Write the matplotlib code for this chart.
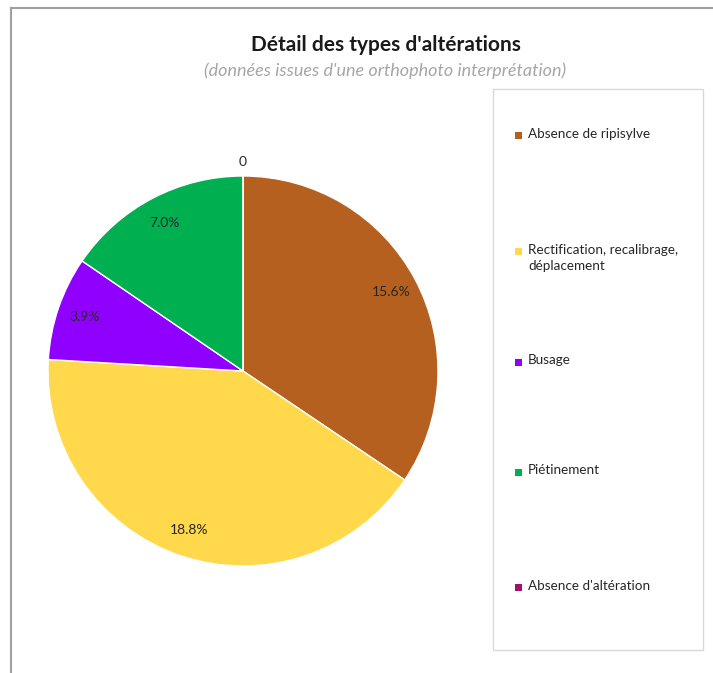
import matplotlib.pyplot as plt
from matplotlib.patches import Rectangle
import numpy as np

# data
categories = ["Absence de ripisylve",
              "Rectification, recalibrage,\ndéplacement",
              "Busage",
              "Piétinement",
              "Absence d'altération"]
values = [15.6, 18.8, 3.9, 7.0, 0.0]
value_labels = ["15.6%", "18.8%", "3.9%", "7.0%", "0"]
colors = ["#B5601F", "#FFD84B", "#8F00FF", "#00B050", "#A5106E"]

plt.rcParams['font.family'] = ['Lato', 'DejaVu Sans']

W, H = 713, 673
fig = plt.figure(figsize=(W / 100, H / 100), dpi=100)

# pie axes: center (243, 371) px, radius 195 px
cx, cy, r = 243, 371, 195
ax = fig.add_axes([(cx - r) / W, (H - cy - r) / H, 2 * r / W, 2 * r / H])
wedges, _ = ax.pie(values, colors=colors, startangle=90, counterclock=False,
                   wedgeprops=dict(edgecolor="white", linewidth=1.0))
ax.set_xlim(-1, 1)
ax.set_ylim(-1, 1)
ax.set_aspect("equal")
ax.axis("off")

# value labels placed from wedge geometry
for w, lab, v in zip(wedges, value_labels, values):
    ang = np.deg2rad((w.theta1 + w.theta2) / 2)
    dist = 0.86 if v > 0 else 1.07
    ax.text(dist * np.cos(ang), dist * np.sin(ang), lab, ha="center", va="center",
            fontsize=10, color="#262626", clip_on=False)

# titles
fig.text(386 / W, 1 - 45 / H, "Détail des types d'altérations", ha="center", va="center",
         fontsize=15, fontweight="bold", color="#1a1a1a")
fig.text(385 / W, 1 - 71 / H, "(données issues d'une orthophoto interprétation)",
         ha="center", va="center", fontsize=13, style="italic", color="#A6A6A6")

# legend box
fig.patches.append(Rectangle((493 / W, 1 - 650 / H), 210 / W, 561 / H, transform=fig.transFigure,
                             facecolor="white", edgecolor="#D9D9D9", linewidth=1.0, zorder=0))
legend_y = [135, 251, 362, 472, 587]
for lab, col, y in zip(categories, colors, legend_y):
    fig.patches.append(Rectangle((515 / W, 1 - (y + 3.5) / H), 7 / W, 7 / H,
                                 transform=fig.transFigure, facecolor=col, edgecolor="none"))
    fig.text(528 / W, 1 - (y - 7.5) / H, lab, ha="left", va="top", fontsize=9.7,
             color="#262626", linespacing=1.4)

# outer border (left and top edges visible)
fig.add_artist(plt.Line2D([11 / W, 11 / W], [0, 1 - 8 / H], transform=fig.transFigure,
                          color="#A0A0A0", linewidth=1.5))
fig.add_artist(plt.Line2D([11 / W, 1], [1 - 8 / H, 1 - 8 / H], transform=fig.transFigure,
                          color="#A0A0A0", linewidth=1.5))

fig.savefig("out.png", dpi=100, facecolor="white")
